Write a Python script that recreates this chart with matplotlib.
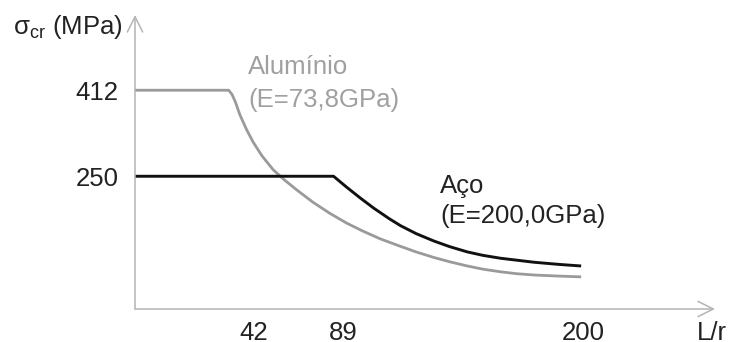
import matplotlib
matplotlib.use("Agg")
import matplotlib.pyplot as plt
import matplotlib.transforms as mtransforms

plt.rcParams['font.family'] = ['Liberation Sans', 'DejaVu Sans']

# Curvas de tensão crítica (esquemáticas)
aluminio_lr = [0, 42, 43.5, 45, 47, 50, 53, 57, 62, 67, 72.6, 79.8, 87.4, 95, 102, 110,
               119, 126, 134, 141, 149, 156, 164, 171, 179, 190, 200]
aluminio_sig = [412, 412, 404, 390, 366, 338, 314, 288, 262, 243, 224, 201, 180, 161.5, 147, 132,
                118, 107.5, 97, 89, 81, 75, 70, 66.5, 64, 62, 60.5]

aco_lr = [0, 89, 95, 101, 107, 114, 119, 126, 134, 141, 149, 156, 164, 179, 190, 200]
aco_sig = [250, 250, 229, 209, 190, 170, 157, 142, 128, 117.5, 107.5, 101, 95.5, 88, 84, 81]

xticks = [42, 89, 200]
xtick_labels = ['42', '89', '200']
yticks = [250, 412]
ytick_labels = ['250', '412']

fig = plt.figure(figsize=(7.3, 3.42), dpi=100)
W, H = 730, 342
ax = fig.add_axes([135 / W, (H - 309) / H, (715 - 135) / W, (309 - 15) / H])
ax.set_xlim(0, 260)
ax.set_ylim(0, 553.7)
for s in ax.spines.values():
    s.set_visible(False)

cinza_eixo = '#b4b4b4'
seta = dict(arrowstyle='->,head_length=1.1,head_width=0.55', color=cinza_eixo, lw=1.1,
            shrinkA=0, shrinkB=0)
ax.annotate('', xy=(260, 0), xytext=(0, 0), arrowprops=seta, annotation_clip=False)
ax.annotate('', xy=(0, 553.7), xytext=(0, 0), arrowprops=seta, annotation_clip=False)

ax.plot(aluminio_lr, aluminio_sig, color='#9a9a9a', lw=2.0, clip_on=False,
        solid_capstyle='butt', solid_joinstyle='round')
ax.plot(aco_lr, aco_sig, color='#111111', lw=2.1, clip_on=False,
        solid_capstyle='butt', solid_joinstyle='round')

fs = 18.5
ax.set_xticks(xticks)
ax.set_xticklabels(xtick_labels, fontsize=fs, color='#222222')
ax.set_yticks(yticks)
ax.set_yticklabels(ytick_labels, fontsize=fs, color='#222222')
ax.tick_params(length=0)
ax.tick_params(axis='y', pad=12)
ax.tick_params(axis='x', pad=9)
for lab, dx in zip(ax.get_xticklabels(), [25, 10, 2]):
    lab.set_transform(lab.get_transform() + mtransforms.ScaledTranslation(dx / 100, 0, fig.dpi_scale_trans))

ax.text(-54.7, 518, r'$\mathregular{\sigma_{cr}}$ (MPa)', fontsize=fs, color='#222222',
        ha='left', va='baseline', clip_on=False)
ax.text(252, -45, 'L/r', fontsize=fs, color='#222222', ha='left', va='center', clip_on=False)

ax.text(50.7, 455, 'Alumínio', fontsize=fs, color='#a0a0a0', ha='left', va='center')
ax.text(50.7, 394, '(E=73,8GPa)', fontsize=fs, color='#a0a0a0', ha='left', va='center')
ax.text(136.8, 231, 'Aço', fontsize=fs, color='#222222', ha='left', va='center')
ax.text(136.8, 175, '(E=200,0GPa)', fontsize=fs, color='#222222', ha='left', va='center')

fig.savefig('out.png', dpi=100)
